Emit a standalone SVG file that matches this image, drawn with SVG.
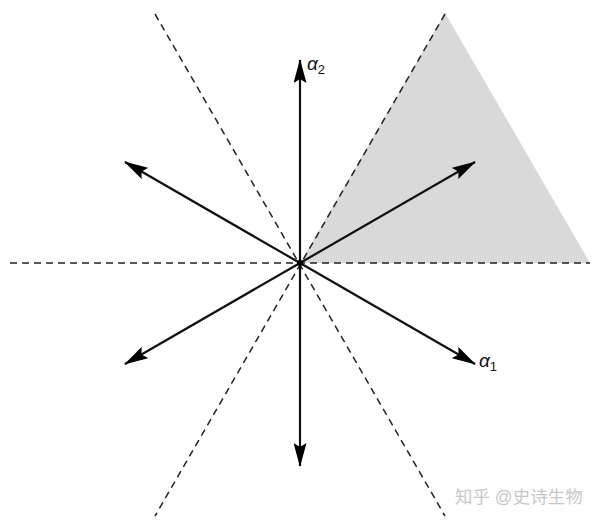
<svg xmlns="http://www.w3.org/2000/svg" width="600" height="522" viewBox="0 0 600 522">
<defs>
<style>
.dash{stroke:#222;stroke-width:1.5;stroke-dasharray:7,5;fill:none}
.arr{stroke:#111;stroke-width:2.2;fill:none;marker-end:url(#ah)}
.lbl{font-family:"Liberation Sans",Arial,sans-serif;font-size:19px;fill:#111}
.wm{font-family:"Liberation Sans","Noto Sans CJK SC",sans-serif;font-size:17.5px;fill:#c8c8c8}
</style>
<marker id="ah" viewBox="0 0 24 13" refX="23" refY="6.5" markerWidth="24" markerHeight="13" markerUnits="userSpaceOnUse" orient="auto">
<path d="M0,0 L24,6.5 L0,13 L4,6.5 Z" fill="#000"/>
</marker>
</defs>
<rect width="600" height="522" fill="#fff"/>
<g id="chamber">
<polygon points="300,263 445,13 590,263" fill="#d9d9d9"/>
</g>
<g id="connectors">
<line class="dash" x1="10" y1="263" x2="590" y2="263"/>
<line class="dash" x1="155" y1="14" x2="445" y2="516"/>
<line class="dash" x1="445" y1="14" x2="155" y2="516"/>
<line class="arr" x1="300" y1="263" x2="300" y2="60"/>
<line class="arr" x1="300" y1="263" x2="300" y2="466"/>
<line class="arr" x1="300" y1="263" x2="475" y2="162"/>
<line class="arr" x1="300" y1="263" x2="125" y2="162"/>
<line class="arr" x1="300" y1="263" x2="475" y2="364"/>
<line class="arr" x1="300" y1="263" x2="125" y2="364"/>
<circle cx="300" cy="263" r="3" fill="#000"/>
</g>
<g id="alpha2">
<text class="lbl" x="307" y="70" font-style="italic">α<tspan font-size="13" dy="4" font-style="normal">2</tspan></text>
</g>
<g id="alpha1">
<text class="lbl" x="479" y="367" font-style="italic">α<tspan font-size="13" dy="4" font-style="normal">1</tspan></text>
</g>
<g id="watermark">
<text class="wm" x="455" y="503">知乎 @史诗生物</text>
</g>
</svg>
